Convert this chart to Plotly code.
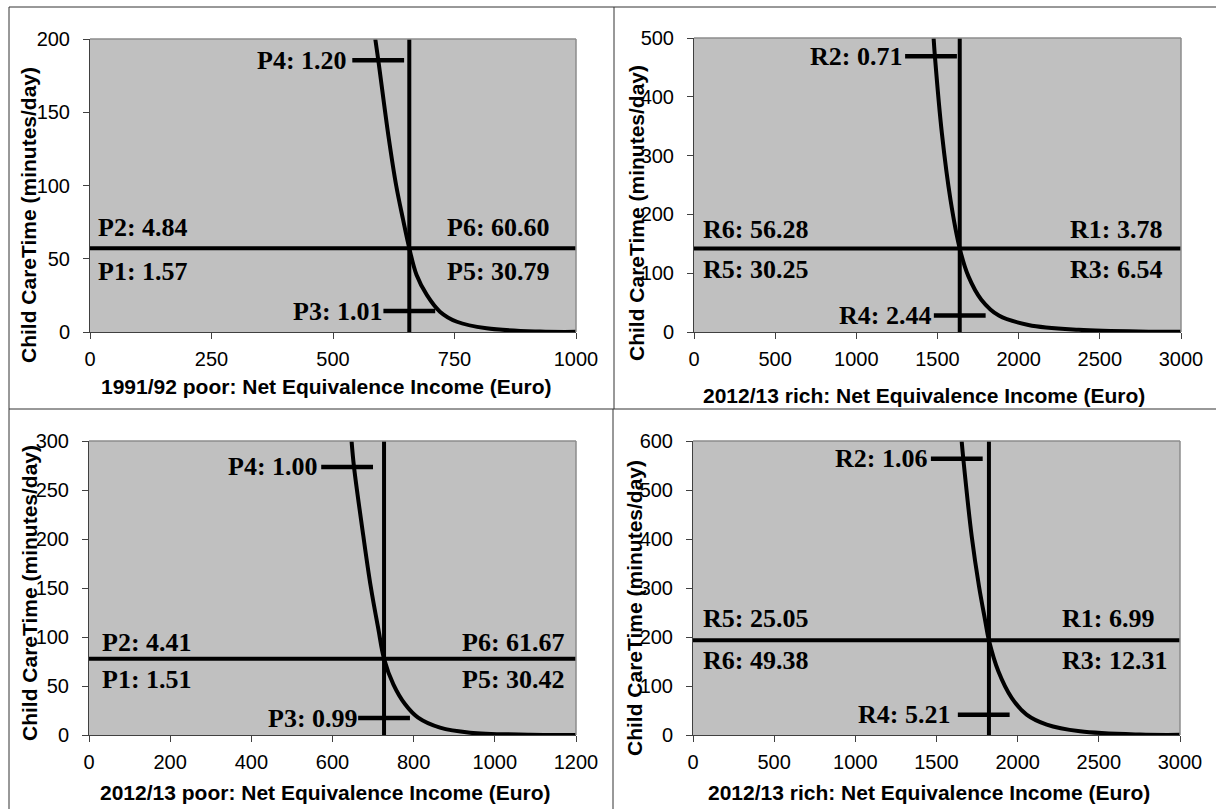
import plotly.graph_objects as go

# page geometry (body margin removed by post_script, figure fills the window)
PAGE_W, PAGE_H = 1216, 809
OFF = 0
W, H = PAGE_W - 2 * OFF, PAGE_H - 2 * OFF

# ------------------------------------------------------------------ data
y_title = "Child CareTime (minutes/day)"

# Panel 1 : 1991/92 poor
p1_x_title = "1991/92 poor: Net Equivalence Income (Euro)"
p1_curve_x = [587, 593, 614, 630, 644, 657, 672, 693, 720, 755, 816, 926, 1000]
p1_curve_y = [200, 186, 134, 100, 77, 57.1, 38.9, 25.3, 13.9, 7.0, 2.5, 0.3, 0.1]
p1_vline = 657
p1_hline = 57.1
p1_mark_x = [593, 657]
p1_mark_y = [185.5, 14.3]
p1_mark_text = ["P4: 1.20", "P3: 1.01"]
p1_side_text = ["P2: 4.84", "P1: 1.57", "P6: 60.60", "P5: 30.79"]

# Panel 2 : 2012/13 rich (top right)
p2_x_title = "2012/13 rich: Net Equivalence Income (Euro)"
p2_curve_x = [1476, 1484, 1527, 1580, 1637, 1690, 1770, 1878, 2060, 2370, 2800, 3000]
p2_curve_y = [500, 469, 338, 225, 142, 95, 55, 28, 12, 3.7, 0.6, 0.3]
p2_vline = 1637
p2_hline = 142
p2_mark_x = [1460, 1637]
p2_mark_y = [469, 28]
p2_mark_text = ["R2: 0.71", "R4: 2.44"]
p2_side_text = ["R6: 56.28", "R5: 30.25", "R1: 3.78", "R3: 6.54"]

# Panel 3 : 2012/13 poor (bottom left)
p3_x_title = "2012/13 poor: Net Equivalence Income (Euro)"
p3_curve_x = [647, 653, 676, 694, 713, 727, 750, 779, 811, 865, 939, 1087, 1200]
p3_curve_y = [300, 273.5, 203, 152, 108, 77.9, 51.7, 31.3, 17.7, 7.5, 2.4, 0.3, 0.1]
p3_vline = 727
p3_hline = 77.9
p3_mark_x = [636, 727]
p3_mark_y = [273.5, 17.3]
p3_mark_text = ["P4: 1.00", "P3: 0.99"]
p3_side_text = ["P2: 4.41", "P1: 1.51", "P6: 61.67", "P5: 30.42"]

# Panel 4 : 2012/13 rich (bottom right)
p4_x_title = "2012/13 rich: Net Equivalence Income (Euro)"
p4_curve_x = [1655, 1665, 1717, 1762, 1799, 1823, 1881, 1963, 2055, 2179, 2384, 2754, 3000]
p4_curve_y = [600, 564, 405, 303, 235, 193.3, 130, 75.8, 41.7, 21.3, 7.7, 0.9, 0.3]
p4_vline = 1823
p4_hline = 193.3
p4_mark_x = [1625, 1791]
p4_mark_y = [564, 41.5]
p4_mark_text = ["R2: 1.06", "R4: 5.21"]
p4_side_text = ["R5: 25.05", "R6: 49.38", "R1: 6.99", "R3: 12.31"]

# ------------------------------------------------------------------ layout config (page pixels)
panels = [
    dict(rect=(90, 39, 576, 332), xr=[0, 1000], dx=250, yr=[0, 200], dy=50,
         left_px=96, right_px=444.5, up=21, down=-23, ytc=(28, 215), xtc=(325.5, 387),
         mshift=[-29, -24],
         cx=p1_curve_x, cy=p1_curve_y, v=p1_vline, h=p1_hline, mx=p1_mark_x, my=p1_mark_y,
         mt=p1_mark_text, st=p1_side_text, xt=p1_x_title),
    dict(rect=(694, 38, 1181, 332), xr=[0, 3000], dx=500, yr=[0, 500], dy=100,
         left_px=701, right_px=1068, up=19, down=-21, ytc=(636, 213), xtc=(924, 395),
         mshift=[-27, -27],
         cx=p2_curve_x, cy=p2_curve_y, v=p2_vline, h=p2_hline, mx=p2_mark_x, my=p2_mark_y,
         mt=p2_mark_text, st=p2_side_text, xt=p2_x_title),
    dict(rect=(89, 441, 576, 735), xr=[0, 1200], dx=200, yr=[0, 300], dy=50,
         left_px=100, right_px=460, up=16, down=-21, ytc=(29, 593), xtc=(324.7, 792),
         mshift=[-27, -24],
         cx=p3_curve_x, cy=p3_curve_y, v=p3_vline, h=p3_hline, mx=p3_mark_x, my=p3_mark_y,
         mt=p3_mark_text, st=p3_side_text, xt=p3_x_title),
    dict(rect=(693, 441, 1180, 735), xr=[0, 3000], dx=500, yr=[0, 600], dy=100,
         left_px=701, right_px=1060, up=22, down=-20, ytc=(634, 608), xtc=(929, 792),
         mshift=[-28, -32],
         cx=p4_curve_x, cy=p4_curve_y, v=p4_vline, h=p4_hline, mx=p4_mark_x, my=p4_mark_y,
         mt=p4_mark_text, st=p4_side_text, xt=p4_x_title),
]


def fx(px):
    return (px - OFF) / W


def fy(py):
    return 1 - (py - OFF) / H


SERIF = "Liberation Serif"
SANS = "Liberation Sans"

fig = go.Figure()
annotations = []
shapes = []
layout_axes = {}

for i, p in enumerate(panels, start=1):
    xa = "x" if i == 1 else f"x{i}"
    ya = "y" if i == 1 else f"y{i}"
    xkey = "xaxis" if i == 1 else f"xaxis{i}"
    ykey = "yaxis" if i == 1 else f"yaxis{i}"
    l, t, r, b = p["rect"]
    common = dict(showgrid=False, zeroline=False, showline=True, linecolor="#404040", linewidth=1,
                  ticks="outside", ticklen=6, tickcolor="#404040", tickwidth=1, automargin=False,
                  tickfont=dict(family=SANS, size=20, color="black"), fixedrange=True, tick0=0)
    layout_axes[xkey] = dict(domain=[fx(l), fx(r)], anchor=ya, range=p["xr"], dtick=p["dx"],
                             ticklabelstandoff=3, **common)
    layout_axes[ykey] = dict(domain=[fy(b), fy(t)], anchor=xa, range=p["yr"], dtick=p["dy"],
                             ticklabelstandoff=9, **common)
    # plot background + grey top/right border
    shapes.append(dict(type="rect", xref=f"{xa} domain", yref=f"{ya} domain",
                       x0=0, x1=1, y0=0, y1=1, fillcolor="#C0C0C0", line=dict(width=0),
                       layer="below"))
    shapes.append(dict(type="line", xref=f"{xa} domain", yref=f"{ya} domain",
                       x0=0, x1=1, y0=1, y1=1, line=dict(color="#8c8c8c", width=1.5)))
    shapes.append(dict(type="line", xref=f"{xa} domain", yref=f"{ya} domain",
                       x0=1, x1=1, y0=0, y1=1, line=dict(color="#8c8c8c", width=1.5)))

    # curve
    fig.add_trace(go.Scatter(x=p["cx"], y=p["cy"], mode="lines", xaxis=xa, yaxis=ya,
                             line=dict(color="black", width=4, shape="spline", smoothing=1.0),
                             hoverinfo="skip", showlegend=False))
    # vertical and horizontal reference lines
    fig.add_trace(go.Scatter(x=[p["v"], p["v"]], y=p["yr"], mode="lines", xaxis=xa, yaxis=ya,
                             line=dict(color="black", width=4), hoverinfo="skip", showlegend=False))
    fig.add_trace(go.Scatter(x=p["xr"], y=[p["h"], p["h"]], mode="lines", xaxis=xa, yaxis=ya,
                             line=dict(color="black", width=4), hoverinfo="skip", showlegend=False))
    # dash markers
    fig.add_trace(go.Scatter(x=p["mx"], y=p["my"], mode="markers", xaxis=xa, yaxis=ya,
                             marker=dict(symbol="line-ew", size=37, color="black",
                                         line=dict(color="black", width=4.5)),
                             hoverinfo="skip", showlegend=False, cliponaxis=False))

    tfont = dict(family=SERIF, size=26, color="black")
    for mx, my, txt, sh in zip(p["mx"], p["my"], p["mt"], p["mshift"]):
        annotations.append(dict(x=mx, y=my, xref=xa, yref=ya, text=f"<b>{txt}</b>",
                                showarrow=False, xanchor="right", yanchor="middle",
                                xshift=sh, font=tfont))
    st = p["st"]
    for txt, xp, shift in [(st[0], p["left_px"], p["up"]), (st[1], p["left_px"], p["down"]),
                           (st[2], p["right_px"], p["up"]), (st[3], p["right_px"], p["down"])]:
        annotations.append(dict(x=fx(xp), y=p["h"], xref="paper", yref=ya, text=f"<b>{txt}</b>",
                                showarrow=False, xanchor="left", yanchor="middle", yshift=shift,
                                font=tfont))
    # axis titles
    annotations.append(dict(x=fx(p["xtc"][0]), y=fy(p["xtc"][1]), xref="paper", yref="paper",
                            text=f"<b>{p['xt']}</b>", showarrow=False, xanchor="center", yanchor="middle",
                            font=dict(family=SANS, size=21, color="black")))
    annotations.append(dict(x=fx(p["ytc"][0]), y=fy(p["ytc"][1]), xref="paper", yref="paper",
                            text=f"<b>{y_title}</b>", showarrow=False, xanchor="center", yanchor="middle",
                            textangle=-90, font=dict(family=SANS, size=21, color="black")))


def px_line(x0, y0, x1, y1):
    return dict(type="line", xref="paper", yref="paper", x0=fx(x0), x1=fx(x1),
                y0=fy(y0), y1=fy(y1), line=dict(color="#333333", width=1))


# table grid lines
shapes += [
    px_line(9, 7, PAGE_W, 7),
    px_line(9, 7, 9, PAGE_H),
    px_line(614, 7, 614, 409),
    px_line(613, 409, 613, PAGE_H),
    px_line(9, 409, PAGE_W, 409),
]

fig.update_layout(
    template="none",
    width=W, height=H, margin=dict(l=0, r=0, t=0, b=0, autoexpand=False),
    paper_bgcolor="white", plot_bgcolor="rgba(0,0,0,0)",
    showlegend=False, annotations=annotations, shapes=shapes,
    **layout_axes,
)

fig.write_html("out.html", config={"displayModeBar": False},
               post_script="document.body.style.margin='0';document.body.style.overflow='hidden';")
